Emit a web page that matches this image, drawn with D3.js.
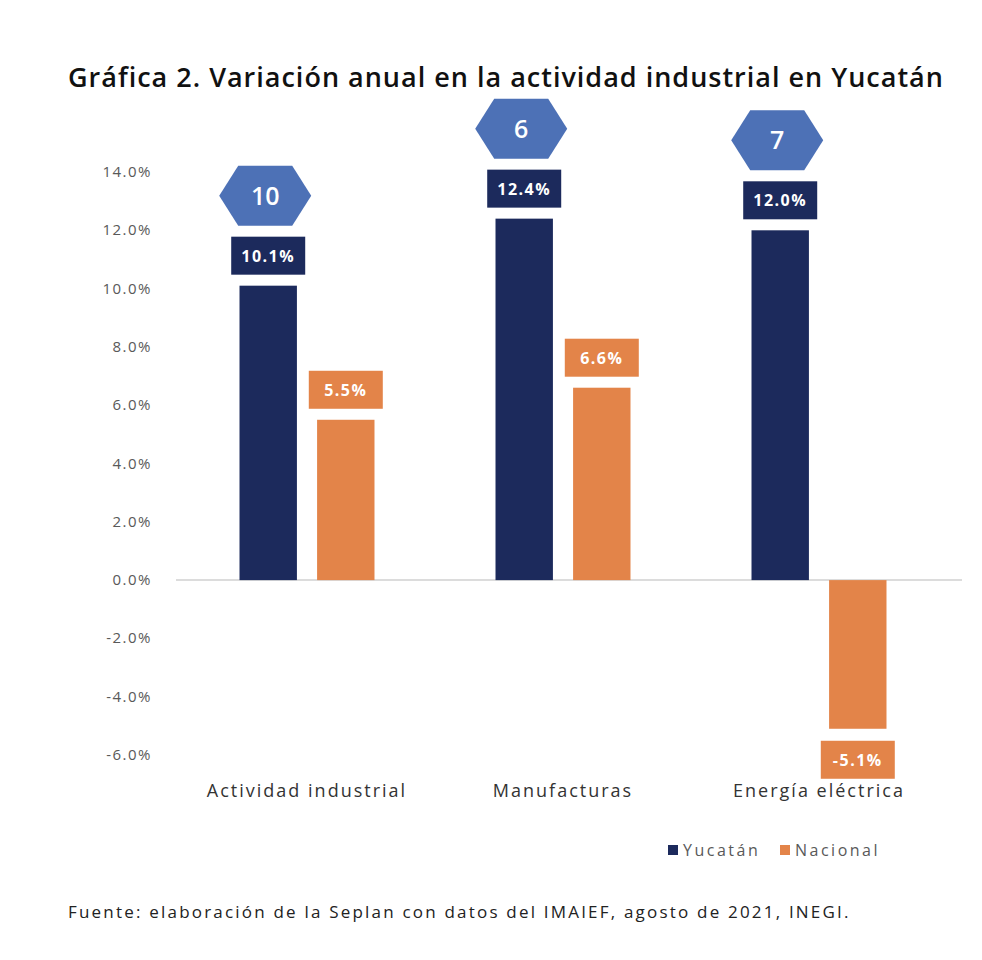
<!DOCTYPE html>
<html><head><meta charset="utf-8">
<script src="https://cdn.jsdelivr.net/npm/d3@7"></script>
<style>body{margin:0;background:#fff}</style>
</head><body>
<div id="chart"></div>
<script>
const categories = ['Actividad industrial', 'Manufacturas', 'Energía eléctrica'];
const yucatan = [10.1, 12.4, 12.0];
const nacional = [5.5, 6.6, -5.1];
const ranking = [10, 6, 7];
const yTicks = [14, 12, 10, 8, 6, 4, 2, 0, -2, -4, -6];

const width = 982, height = 960;
const navy = '#1c2a5c', orange = '#e38449', hexBlue = '#4d71b6', gray = '#595959';

const svg = d3.select('#chart').append('svg')
    .attr('width', width).attr('height', height)
    .style('font-family', '"Open Sans", sans-serif');

svg.append('text').attr('x', 68).attr('y', 87)
    .attr('font-size', 27).attr('font-weight', 600).attr('letter-spacing', 1).attr('fill', '#111')
    .text('Gráfica 2. Variación anual en la actividad industrial en Yucatán');

const y = d3.scaleLinear().domain([-6, 14]).range([755, 172]);
const x = d3.scaleBand().domain(categories).range([179, 947]).paddingInner(0).paddingOuter(0);
const sub = d3.scaleBand().domain(['Yucatán', 'Nacional']).range([0, x.bandwidth()]).paddingInner(0.26).paddingOuter(0.78);

// y axis labels
svg.append('g').selectAll('text').data(yTicks).join('text')
    .attr('x', 152).attr('y', d => y(d) + 5)
    .attr('text-anchor', 'end').attr('font-size', 15).attr('letter-spacing', 1.5).attr('fill', gray)
    .text(d => d.toFixed(1) + '%');

// zero line
svg.append('line').attr('x1', 176).attr('x2', 962)
    .attr('y1', y(0)).attr('y2', y(0)).attr('stroke', '#d0d0d0').attr('stroke-width', 1.5);

const series = [
  { name: 'Yucatán', values: yucatan, color: navy },
  { name: 'Nacional', values: nacional, color: orange }
];

series.forEach(s => {
  const g = svg.append('g');
  g.selectAll('rect').data(categories).join('rect')
    .attr('x', c => x(c) + sub(s.name))
    .attr('width', sub.bandwidth())
    .attr('y', (c, i) => y(Math.max(0, s.values[i])))
    .attr('height', (c, i) => Math.abs(y(s.values[i]) - y(0)))
    .attr('fill', s.color);
  // value label boxes
  const lab = g.selectAll('g.lab').data(categories).join('g').attr('class', 'lab')
    .attr('transform', (c, i) => {
      const v = s.values[i];
      const cx = x(c) + sub(s.name) + sub.bandwidth() / 2;
      const cy = v >= 0 ? y(v) - 30 : y(v) + 31;
      return `translate(${cx},${cy})`;
    });
  lab.append('rect').attr('x', -37).attr('y', -19).attr('width', 74).attr('height', 38).attr('fill', s.color);
  lab.append('text').attr('text-anchor', 'middle').attr('y', 6)
    .attr('font-size', 16).attr('font-weight', 'bold').attr('letter-spacing', 1.5).attr('fill', '#fff')
    .text((c, i) => s.values[i].toFixed(1) + '%');
});

// ranking hexagons above Yucatán
const hex = svg.append('g').selectAll('g').data(categories).join('g')
  .attr('transform', (c, i) => {
    const cx = x(c) + sub('Yucatán') + sub.bandwidth() / 2 - 3;
    return `translate(${cx},${y(yucatan[i]) - 90})`;
  });
hex.append('path').attr('d', 'M-46,0 L-27,-30 L27,-30 L46,0 L27,30 L-27,30 Z').attr('fill', hexBlue);
hex.append('text').attr('text-anchor', 'middle').attr('y', 9)
  .attr('font-size', 25).attr('font-weight', 600).attr('fill', '#fff')
  .text((c, i) => ranking[i]);

// category labels
svg.append('g').selectAll('text').data(categories).join('text')
  .attr('x', c => x(c) + x.bandwidth() / 2).attr('y', 797)
  .attr('text-anchor', 'middle').attr('font-size', 18).attr('letter-spacing', 2).attr('fill', '#333')
  .text(d => d);

// legend
const leg = svg.append('g').selectAll('g').data(series).join('g')
  .attr('transform', (d, i) => `translate(${[668, 780][i]},850)`);
leg.append('rect').attr('x', 0).attr('y', -5).attr('width', 10).attr('height', 10).attr('fill', d => d.color);
leg.append('text').attr('x', 15).attr('y', 6).attr('font-size', 16).attr('letter-spacing', 2.5).attr('fill', gray).text(d => d.name);

svg.append('text').attr('x', 68).attr('y', 918).attr('font-size', 17).attr('letter-spacing', 2.2).attr('fill', '#222')
  .text('Fuente: elaboración de la Seplan con datos del IMAIEF, agosto de 2021, INEGI.');
</script>
</body></html>
